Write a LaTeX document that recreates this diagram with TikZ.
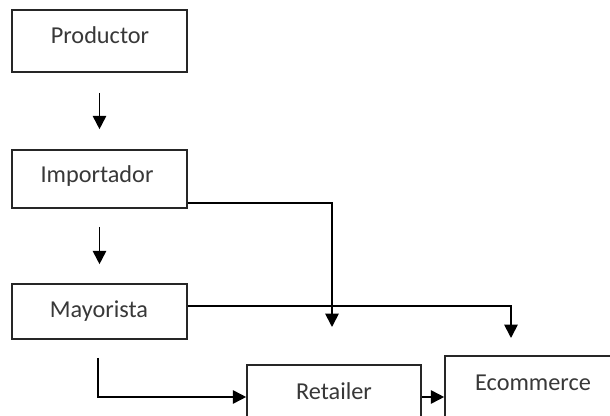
\documentclass[tikz,border=0pt]{standalone}
\usepackage{fontspec}
\setmainfont{Carlito}
\usetikzlibrary{arrows.meta,calc}
\begin{document}
\begin{tikzpicture}[x=0.75pt,y=-0.75pt,
 box/.style={draw=black!85, line width=1.2pt, rectangle, inner sep=0pt},
 lbl/.style={text=black!78, font=\fontsize{18.2}{21}\selectfont, anchor=base, inner sep=0pt},
 arr/.style={draw=black, line width=1.3pt, -{Triangle[width=10pt,length=10pt]}}]
\useasboundingbox (0,0) rectangle (610,416);
\clip (0,0) rectangle (610,416);
\fill[white] (0,0) rectangle (610,416);
% boxes
\node[box, minimum width=131.25pt, minimum height=46.5pt] (prod) at (99.5,41) {};
\node[box, minimum width=131.25pt, minimum height=43.5pt] (imp) at (99.5,179) {};
\node[box, minimum width=131.25pt, minimum height=41.25pt] (may) at (99.5,311.5) {};
\node[box, minimum width=130.5pt, minimum height=48pt] (ret) at (334,397) {};
\node[box, minimum width=135pt, minimum height=61.5pt] (ecom) at (535,397) {};
% labels
\node[lbl] (lprod) at (100,44) {Productor};
\node[lbl] (limp) at (97,183) {Importador};
\node[lbl] (lmay) at (99,318) {Mayorista};
\node[lbl] (lret) at (334,399) {Retailer};
\node[lbl] (lecom) at (533,390) {Ecommerce};
% connector ends
\coordinate (t1) at (332,327);
\coordinate (t2) at (511,338);
\coordinate (s3) at (98,358);
% connectors
\draw[arr, shorten <=15pt, shorten >=15pt] (prod.south) -- (imp.north);
\draw[arr, shorten <=13.5pt, shorten >=14.25pt] (imp.south) -- (may.north);
\draw[arr] ([yshift=4.5pt]imp.south east) -| (t1);
\draw[arr] ([yshift=4.1pt]may.east) -| (t2);
\draw[arr] (s3) |- (ret.west);
\draw[arr] (ret.east) -- (ecom.west);
\end{tikzpicture}
\end{document}
